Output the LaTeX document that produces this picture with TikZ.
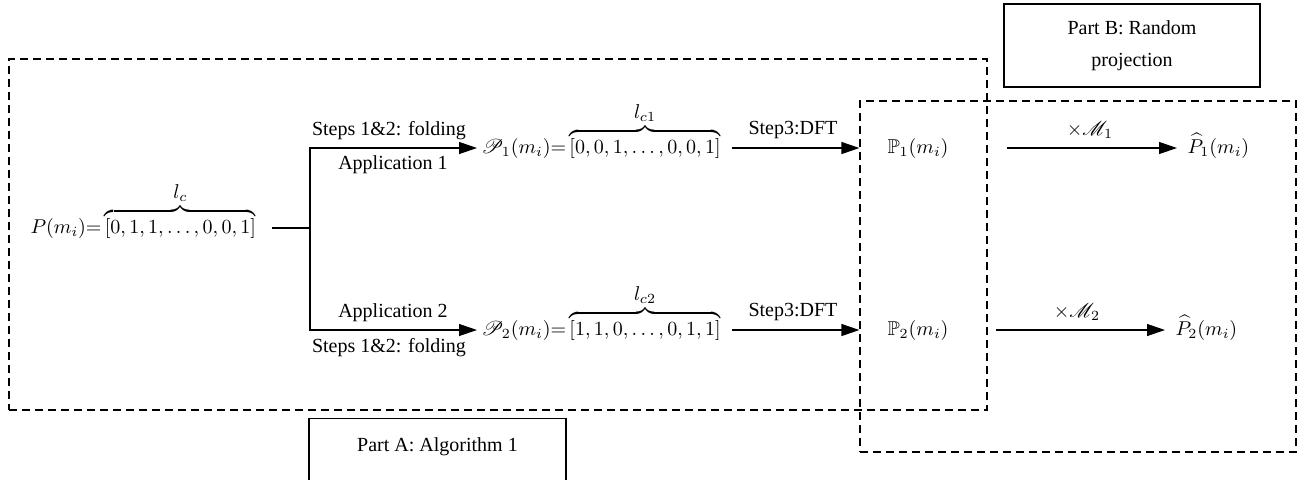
\documentclass[tikz,border=0pt]{standalone}
\usepackage{amsmath,amssymb,mathrsfs}
\usepackage{fontspec}
\setmainfont{Liberation Serif}
\usetikzlibrary{arrows.meta}
\begin{document}
\begin{tikzpicture}[x=0.5pt,y=-0.5pt,
  line width=0.6pt,
  arr/.style={-{Triangle[length=9pt,width=6pt]}},
  dbox/.style={draw, dash pattern=on 4pt off 2.5pt, inner sep=0pt},
  sbox/.style={draw, inner sep=0pt},
  lbl/.style={inner sep=0pt, font=\fontsize{10}{12}\selectfont},
  mth/.style={inner sep=0pt, font=\fontsize{10}{12}\selectfont}
  ]
\useasboundingbox (0,0) rectangle (1298,479);
% boxes
\node[dbox, minimum width=489pt, minimum height=175.5pt] (A) at (498,234.5) {};
\node[dbox, minimum width=218pt, minimum height=175.5pt] (B) at (1078,276.5) {};
\node[sbox, lbl, minimum width=128pt, minimum height=41.5pt, align=center] (PB) at (1132,45.5) {Part B: Random\\[4pt]projection};
\node[sbox, minimum width=128.5pt, minimum height=41.5pt, anchor=north] (PA) at (437.5,418) {};
\node[lbl] (PAt) at (437.5,447) {Part A: Algorithm 1};
% rows
\coordinate (r0) at (0,228);
\coordinate (r1) at (0,148);
\coordinate (r2) at (0,330);
% source
\node[mth, anchor=base west] (P) at (30,233) {$P(m_i){=}\overbrace{[0, 1, 1, \ldots, 0, 0, 1]}^{\textstyle l_c}$};
\coordinate (J) at (310,228);
\draw ([xshift=7.5pt]P.east |- r0) -- (J);
% folded
\node[mth, anchor=base west] (P1) at (481,153) {$\mathscr{P}_1(m_i){=}\overbrace{[0, 0, 1, \ldots, 0, 0, 1]}^{\textstyle l_{c1}}$};
\node[mth, anchor=base west] (P2) at (481,335) {$\mathscr{P}_2(m_i){=}\overbrace{[1, 1, 0, \ldots, 0, 1, 1]}^{\textstyle l_{c2}}$};
\draw[arr] (J) |- ([xshift=-2pt]P1.west |- r1);
\draw[arr] (J) |- ([xshift=-2pt]P2.west |- r2);
\node[lbl] (s1) at (389,131) {Steps 1\&2: folding};
\node[lbl] (a1) at (393,165) {Application 1};
\node[lbl] (a2) at (393,313) {Application 2};
\node[lbl] (s2) at (389,348) {Steps 1\&2: folding};
% DFT
\node[mth] (Q1) at (918,148) {$\mathbb{P}_1(m_i)$};
\node[mth] (Q2) at (918,330) {$\mathbb{P}_2(m_i)$};
\draw[arr] ([xshift=5.5pt]P1.east |- r1) -- (B.west |- r1);
\draw[arr] ([xshift=5.5pt]P2.east |- r2) -- (B.west |- r2);
\node[lbl] (d1) at (793,130) {Step3:DFT};
\node[lbl] (d2) at (793,312) {Step3:DFT};
% projection
\node[mth, anchor=base west] (H1) at (1187,153) {$\widehat{P}_1(m_i)$};
\node[mth, anchor=base west] (H2) at (1175,335) {$\widehat{P}_2(m_i)$};
\draw[arr] ([xshift=9.5pt]A.east |- r1) -- ([xshift=-5pt]H1.west |- r1);
\draw[arr] ([xshift=4pt]A.east |- r2) -- ([xshift=-5pt]H2.west |- r2);
\node[mth] (m1) at (1090,130) {$\times\mathscr{M}_1$};
\node[mth] (m2) at (1077,312) {$\times\mathscr{M}_2$};
\end{tikzpicture}
\end{document}
